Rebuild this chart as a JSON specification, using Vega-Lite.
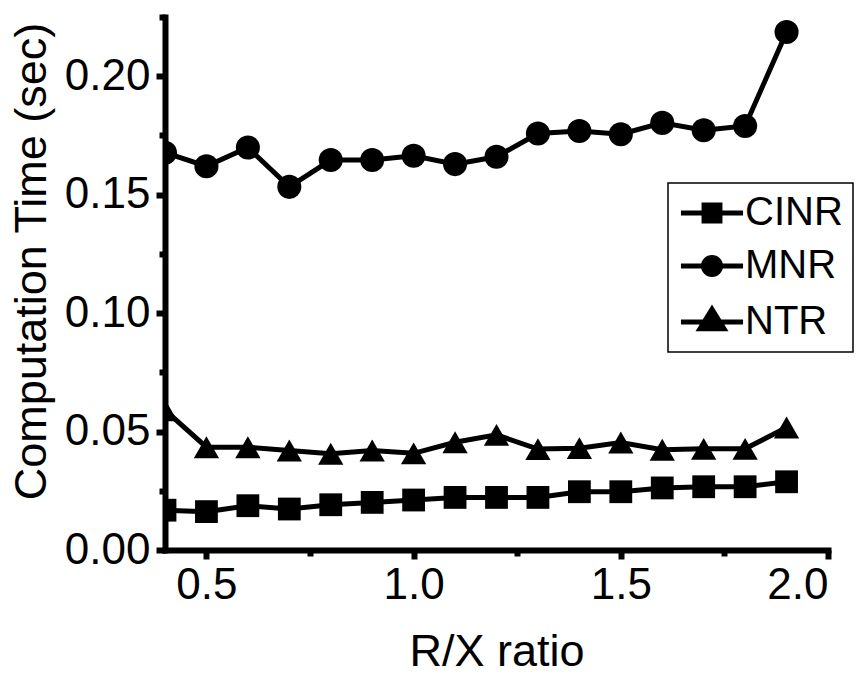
{
  "$schema": "https://vega.github.io/schema/vega-lite/v6.json",
  "width": 663,
  "height": 533,
  "autosize": "none",
  "padding": {"left": 165, "top": 17, "right": 31, "bottom": 125},
  "background": "white",
  "config": {
    "view": {"stroke": null},
    "font": "Liberation Sans",
    "axis": {
      "domainColor": "black",
      "domainWidth": 6,
      "tickColor": "black",
      "tickWidth": 6,
      "tickSize": 9,
      "labelColor": "black",
      "labelFont": "Liberation Sans",
      "labelFontSize": 44,
      "titleFont": "Liberation Sans",
      "titleFontSize": 45,
      "titleFontWeight": "normal",
      "titleColor": "black",
      "grid": false,
      "zindex": 1,
      "domainCap": "square"
    },
    "legend": {
      "labelFont": "Liberation Sans",
      "labelFontSize": 40,
      "labelColor": "black"
    }
  },
  "data": {
    "values": [
      {"r": 0.4, "series": "CINR", "t": 0.0168},
      {"r": 0.5, "series": "CINR", "t": 0.0162},
      {"r": 0.6, "series": "CINR", "t": 0.0187},
      {"r": 0.7, "series": "CINR", "t": 0.0173},
      {"r": 0.8, "series": "CINR", "t": 0.0191},
      {"r": 0.9, "series": "CINR", "t": 0.0201},
      {"r": 1.0, "series": "CINR", "t": 0.0211},
      {"r": 1.1, "series": "CINR", "t": 0.0222},
      {"r": 1.2, "series": "CINR", "t": 0.0222},
      {"r": 1.3, "series": "CINR", "t": 0.0222},
      {"r": 1.4, "series": "CINR", "t": 0.0246},
      {"r": 1.5, "series": "CINR", "t": 0.0246},
      {"r": 1.6, "series": "CINR", "t": 0.0262},
      {"r": 1.7, "series": "CINR", "t": 0.0267},
      {"r": 1.8, "series": "CINR", "t": 0.0267},
      {"r": 1.9, "series": "CINR", "t": 0.0288},
      {"r": 0.4, "series": "MNR", "t": 0.1677},
      {"r": 0.5, "series": "MNR", "t": 0.1620},
      {"r": 0.6, "series": "MNR", "t": 0.1699},
      {"r": 0.7, "series": "MNR", "t": 0.1533},
      {"r": 0.8, "series": "MNR", "t": 0.1646},
      {"r": 0.9, "series": "MNR", "t": 0.1646},
      {"r": 1.0, "series": "MNR", "t": 0.1664},
      {"r": 1.1, "series": "MNR", "t": 0.1629},
      {"r": 1.2, "series": "MNR", "t": 0.1660},
      {"r": 1.3, "series": "MNR", "t": 0.1758},
      {"r": 1.4, "series": "MNR", "t": 0.1769},
      {"r": 1.5, "series": "MNR", "t": 0.1755},
      {"r": 1.6, "series": "MNR", "t": 0.1803},
      {"r": 1.7, "series": "MNR", "t": 0.1772},
      {"r": 1.8, "series": "MNR", "t": 0.1790},
      {"r": 1.9, "series": "MNR", "t": 0.2187},
      {"r": 0.4, "series": "NTR", "t": 0.0590},
      {"r": 0.5, "series": "NTR", "t": 0.0434},
      {"r": 0.6, "series": "NTR", "t": 0.0434},
      {"r": 0.7, "series": "NTR", "t": 0.0420},
      {"r": 0.8, "series": "NTR", "t": 0.0406},
      {"r": 0.9, "series": "NTR", "t": 0.0420},
      {"r": 1.0, "series": "NTR", "t": 0.0408},
      {"r": 1.1, "series": "NTR", "t": 0.0455},
      {"r": 1.2, "series": "NTR", "t": 0.0486},
      {"r": 1.3, "series": "NTR", "t": 0.0426},
      {"r": 1.4, "series": "NTR", "t": 0.0430},
      {"r": 1.5, "series": "NTR", "t": 0.0454},
      {"r": 1.6, "series": "NTR", "t": 0.0423},
      {"r": 1.7, "series": "NTR", "t": 0.0427},
      {"r": 1.8, "series": "NTR", "t": 0.0427},
      {"r": 1.9, "series": "NTR", "t": 0.0517}
    ]
  },
  "resolve": {"axis": {"x": "independent", "y": "independent"}},
  "layer": [
    {
      "mark": {"type": "line", "strokeWidth": 5, "clip": true},
      "encoding": {
        "x": {
          "field": "r", "type": "quantitative",
          "scale": {"domain": [0.4, 2.0], "nice": false, "zero": false},
          "axis": {"values": [0.5, 1.0, 1.5, 2.0], "format": ".1f", "title": "R/X ratio", "labelPadding": 4, "titlePadding": 22, "orient": "bottom"}
        },
        "y": {
          "field": "t", "type": "quantitative",
          "scale": {"domain": [0, 0.225], "nice": false},
          "axis": {"values": [0, 0.05, 0.1, 0.15, 0.2], "format": ".2f", "title": "Computation Time (sec)", "labelPadding": 6, "titlePadding": 10, "titleY": 244, "orient": "left"}
        },
        "color": {
          "field": "series", "type": "nominal",
          "scale": {"range": ["black", "black", "black"]},
          "legend": {
            "title": null,
            "orient": "none",
            "legendX": 503,
            "legendY": 166,
            "symbolSize": 900,
            "symbolStrokeWidth": 5,
            "symbolStrokeColor": "black",
            "symbolFillColor": "black",
            "symbolOffset": 14,
            "strokeColor": "black",
            "padding": 10,
            "rowPadding": 13,
            "labelOffset": 13,
            "labelFontSize": 40,
            "encode": {
              "symbols": {
                "update": {
                  "shape": {"signal": "datum.value === 'CINR' ? 'M-2.07,0H2.07M-0.53,-0.53H0.53V0.53H-0.53Z' : datum.value === 'MNR' ? 'M-2.07,0H2.07M0.57,0A0.57,0.57,0,1,1,-0.57,0A0.57,0.57,0,1,1,0.57,0Z' : 'M-2.07,0H2.07M0,-0.85L0.8,0.45L-0.8,0.45Z'"},
                  "fill": {"value": "black"},
                  "stroke": {"value": "black"},
                  "strokeWidth": {"value": 5},
                  "opacity": {"value": 1}
                }
              },
              "legend": {
                "update": {"strokeWidth": {"value": 1.5}}
              }
            }
          }
        }
      }
    },
    {
      "mark": {"type": "point", "filled": true, "color": "black", "opacity": 1, "clip": true},
      "encoding": {
        "x": {"field": "r", "type": "quantitative", "axis": null},
        "y": {"field": "t", "type": "quantitative", "axis": null},
        "shape": {
          "field": "series", "type": "nominal",
          "scale": {"domain": ["CINR", "MNR", "NTR"], "range": ["square", "circle", "triangle-up"]},
          "legend": null
        },
        "size": {
          "field": "series", "type": "nominal",
          "scale": {"domain": ["CINR", "MNR", "NTR"], "range": [520, 640, 740]},
          "legend": null
        }
      }
    },
    {
      "mark": {"type": "point", "opacity": 0},
      "encoding": {
        "x": {
          "field": "r", "type": "quantitative",
          "axis": {"values": [0.75, 1.25, 1.75], "labels": false, "domain": false, "title": null, "tickSize": 6, "orient": "bottom"}
        },
        "y": {
          "field": "t", "type": "quantitative",
          "axis": {"values": [0.025, 0.075, 0.125, 0.175, 0.225], "labels": false, "domain": false, "title": null, "tickSize": 6, "orient": "left"}
        }
      }
    }
  ]
}
